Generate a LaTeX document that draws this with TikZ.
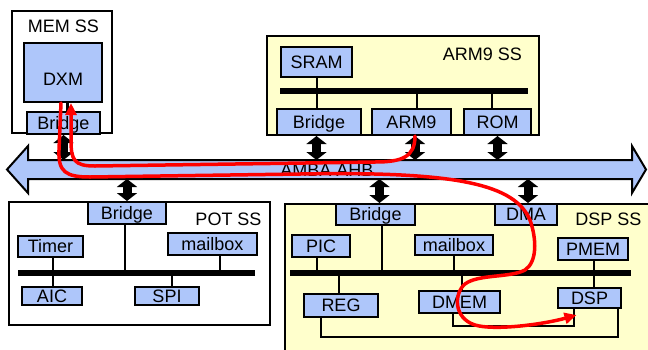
\documentclass[tikz,border=0pt]{standalone}
\usepackage{fontspec}
\setmainfont{Liberation Sans}
\usetikzlibrary{arrows.meta,positioning,calc}
\definecolor{blkblue}{RGB}{174,198,250}
\definecolor{ssyellow}{RGB}{255,255,204}

\begin{document}
\begin{tikzpicture}[
    x=1pt, y=-1pt,
    font=\fontsize{18}{20}\selectfont,
    dims/.style 2 args={minimum width=#1pt, minimum height=#2pt},
    blk/.style={draw, line width=2pt, fill=blkblue, inner sep=0pt,
                text height=12.9pt, text depth=0pt},
    region/.style={draw, line width=2pt, inner sep=0pt},
    sstitle/.style={inner sep=0pt, text height=12.9pt, text depth=0pt},
    bus/.style={line width=5.5pt},
    wire/.style={line width=2pt},
    ahb/.style={draw, line width=2pt, fill=blkblue, line join=miter},
    link/.style={line width=9pt, {Triangle[width=20pt,length=8pt]}-{Triangle[width=20pt,length=8pt]}},
    flow/.style={draw=red, line width=3.5pt, line cap=round, line join=round,
                 -{Triangle[width=11pt,length=12pt]}},
]
\useasboundingbox (0,0) rectangle (648,349);
\clip (0,0) rectangle (648,349);

% =====================  MEM SS  =====================
\node[region, fill=white, dims={100}{122}] (memss) at (62,72) {};
\node[sstitle] (memtitle) at (63.5,26.5) {MEM SS};
\node[blk, dims={78}{59}, text height=25.9pt] (dxm) at (63,72.5) {DXM};
\node[blk, dims={73}{22}] (membridge) at (63.5,123) {Bridge};
\draw[wire, line width=3pt] ($(dxm.south)+(4,0)$) -- ($(membridge.north)+(3.5,0)$);

% =====================  ARM9 SS  =====================
\node[region, fill=ssyellow, dims={272}{99}] (armss) at (403,85.5) {};
\node[sstitle, anchor=east] (armtitle) at (522,54.5) {ARM9 SS};
\node[blk, dims={71}{30}] (sram) at (316.5,62) {SRAM};
\node[blk, dims={84}{26}] (armbridge) at (319,122) {Bridge};
\node[blk, dims={79}{26}] (arm) at (411.5,122) {ARM9};
\node[blk, dims={67}{26}] (rom) at (497.5,122) {ROM};

\coordinate (armbusL) at (280,91);
\coordinate (armbusR) at (528,91);
\draw[bus] (armbusL) -- (armbusR);
\draw[wire] (sram.south) -- (sram.south |- armbusL);
\draw[wire] (armbridge.north -| sram.south) -- (sram.south |- armbusL);
\draw[wire] ($(arm.north)+(5.5,0)$) -- ($(arm.north |- armbusL)+(5.5,0)$);
\draw[wire] ($(rom.north)+(-5.5,0)$) -- ($(rom.north |- armbusL)+(-5.5,0)$);

% =====================  POT SS  =====================
\node[region, fill=white, dims={261}{123}] (potss) at (139.5,263.5) {};
\node[sstitle] (pottitle) at (228.5,219) {POT SS};
\node[blk, dims={78}{22}] (potbridge) at (127,213) {Bridge};
\node[blk, dims={65}{21}] (timer) at (50.5,246.5) {Timer};
\node[blk, dims={89}{22}] (potmail) at (212.5,244) {mailbox};
\node[blk, dims={60}{18}] (aic) at (52,296) {AIC};
\node[blk, dims={64}{18}] (spi) at (167,296) {SPI};

\coordinate (potbusL) at (18,273);
\coordinate (potbusR) at (255,273);
\draw[bus] (potbusL) -- (potbusR);
\draw[wire] ($(potbridge.south)+(-2,0)$) -- ($(potbridge.south |- potbusL)+(-2,0)$);
\draw[wire] ($(timer.south)+(2.5,0)$) -- ($(timer.south |- potbusL)+(2.5,0)$);
\draw[wire] ($(potmail.south)+(7.5,0)$) -- ($(potmail.south |- potbusL)+(7.5,0)$);
\draw[wire] ($(aic.north)+(1,0)$) -- ($(aic.north |- potbusL)+(1,0)$);
\draw[wire] ($(spi.north)+(5,0)$) -- ($(spi.north |- potbusL)+(5,0)$);

% =====================  DSP SS  =====================
\node[region, fill=ssyellow, dims={370}{156}] (dspss) at (470,282) {};
\node[sstitle] (dsptitle) at (608.5,219) {DSP SS};
\node[blk, dims={79}{21}] (dspbridge) at (375.5,214.5) {Bridge};
\node[blk, dims={62}{21}] (dma) at (526,214.5) {DMA};
\node[blk, dims={58}{22}] (pic) at (321,246) {PIC};
\node[blk, dims={78}{20}] (dspmail) at (454,245) {mailbox};
\node[blk, dims={70}{22}] (pmem) at (593,249) {PMEM};
\node[blk, dims={74}{23}] (reg) at (341,305.5) {REG};
\node[blk, dims={81}{22}] (dmem) at (459.5,302) {DMEM};
\node[blk, dims={63}{20}] (dsp) at (589.5,298) {DSP};

\coordinate (dspbusL) at (290,273);
\coordinate (dspbusR) at (631,273);
\draw[bus] (dspbusL) -- (dspbusR);
\draw[wire] ($(pic.south)+(-4,0)$) -- ($(pic.south |- dspbusL)+(-4,0)$);
\draw[wire] ($(dspbridge.south)+(6.5,0)$) -- ($(dspbridge.south |- dspbusL)+(6.5,0)$);
\draw[wire] (dspmail.south) -- (dspmail.south |- dspbusL);
\draw[wire] ($(pmem.south)+(1,0)$) -- ($(pmem.south |- dspbusL)+(1,0)$);
\draw[wire] ($(reg.north)+(-2,0)$) -- ($(reg.north |- dspbusL)+(-2,0)$);
\draw[wire] ($(dmem.north)+(2.5,0)$) -- ($(dmem.north |- dspbusL)+(2.5,0)$);
\draw[wire] ($(dsp.north)+(4.5,0)$) -- ($(dsp.north |- dspbusL)+(4.5,0)$);
% memories back to the DSP
\draw[wire] ($(dmem.south)+(-6.5,0)$) -- ++(0,12) -| ($(dsp.south)+(-15.5,0)$);
\draw[wire] ($(reg.south)+(-20,0)$) -- ++(0,19) -| ($(dsp.south)+(28.5,0)$);

% =====================  AMBA AHB  =====================
\coordinate (ahbtop) at (0,160);
\coordinate (ahbbot) at (0,179);
\draw[ahb] (7,169.5) -- (28,146) -- (28,160) -- (632,160) -- (632,146)
  -- (646,169.5) -- (632,193) -- (632,179) -- (28,179) -- (28,193) -- cycle;
\node[sstitle] (ahblabel) at (327,170) {AMBA AHB};

\draw[link] (membridge.south) -- (membridge.south |- ahbtop);
\draw[link] (armbridge.south -| sram.south) -- (sram.south |- ahbtop);
\draw[link] ($(arm.south)+(3.5,0)$) -- ($(arm.south |- ahbtop)+(3.5,0)$);
\draw[link] (rom.south) -- (rom.south |- ahbtop);
\draw[link] (potbridge.north) -- (potbridge.north |- ahbbot);
\draw[link] ($(dspbridge.north)+(4,0)$) -- ($(dspbridge.north |- ahbbot)+(4,0)$);
\draw[link] ($(dma.north)+(2,0)$) -- ($(dma.north |- ahbbot)+(2,0)$);

% data paths
\draw[flow] ($(arm.south)+(3.5,0)$) .. controls (415,157) and (402,162) .. (375,162)
  -- (95,166) .. controls (74,166) and (71,160) .. (71,140) -- ($(dxm.south)+(8,0)$);
\draw[flow] ($(dxm.south)+(-2,0)$) -- (59,150) .. controls (58,172) and (66,177) .. (90,177)
  -- (300,174) .. controls (460,171) and (515,185) .. (530,220)
  .. controls (537,240) and (537,262) .. (525,270)
  .. controls (510,278) and (478,274) .. (465,284)
  .. controls (454,293) and (453,318) .. (475,325)
  .. controls (495,331) and (545,324) .. ($(dsp.south)+(-13,6)$);

\end{tikzpicture}
\end{document}
